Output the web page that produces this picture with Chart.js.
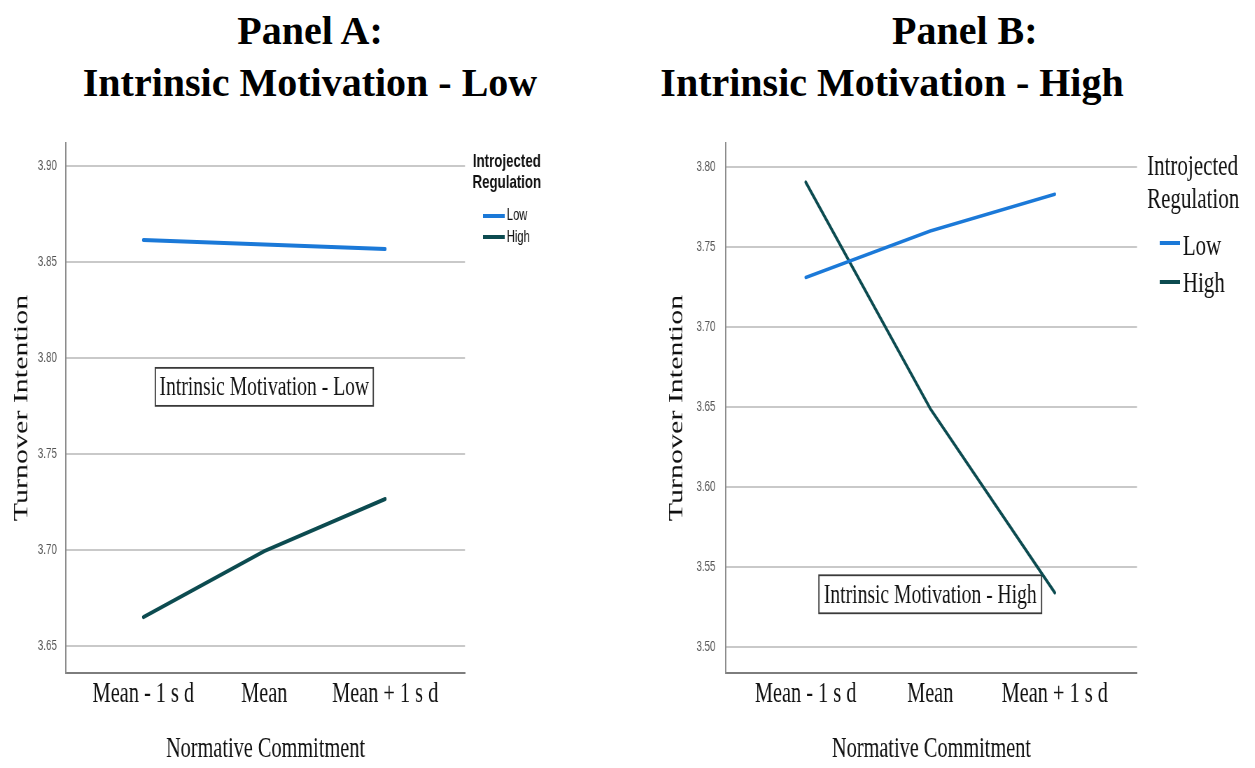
<!DOCTYPE html>
<html>
<head>
<meta charset="utf-8">
<title>Turnover Intention by Normative Commitment</title>
<script src="https://cdn.jsdelivr.net/npm/chart.js@4.4.1/dist/chart.umd.min.js"></script>
<style>
  html, body { margin: 0; padding: 0; background: #fff; overflow: hidden; width: 1255px; height: 768px; }
  .panel { position: absolute; top: 0; height: 768px; overflow: hidden; }
  .stretch { position: absolute; left: 0; top: 0; height: 768px; transform-origin: 0 0; }
  .title { position: absolute; font: bold 40px 'Liberation Serif', 'Times New Roman', serif;
           line-height: 52px; color: #000; white-space: nowrap; }
</style>
</head>
<body>
<div class="title" style="left:0;top:5px;width:620px;text-align:center">Panel A:<br>Intrinsic Motivation - Low</div>
<div class="title" style="left:892px;top:5px">Panel B:</div>
<div class="title" style="left:592px;top:57px;width:600px;text-align:center">Intrinsic Motivation - High</div>

<div class="panel" style="left:0;width:620px"><div class="stretch" id="wrapA"><canvas id="chartA"></canvas></div></div>
<div class="panel" style="left:620px;width:635px"><div class="stretch" id="wrapB"><canvas id="chartB"></canvas></div></div>

<script>
// ---- data ----
const categories = ['Mean - 1 s d', 'Mean', 'Mean + 1 s d'];
const seriesNames = ['Low', 'High'];
const panelALow  = [3.8615, 3.8591, 3.8568];
const panelAHigh = [3.6651, 3.6995, 3.7266];
const panelBLow  = [3.731, 3.760, 3.783];
const panelBHigh = [3.7905, 3.649, 3.534];
const panelATicks = [3.65, 3.70, 3.75, 3.80, 3.85, 3.90];
const panelBTicks = [3.50, 3.55, 3.60, 3.65, 3.70, 3.75, 3.80];
const legendTitle = ['Introjected', 'Regulation'];
const yTitle = 'Turnover Intention';
const xTitle = 'Normative Commitment';
const noteA = 'Intrinsic Motivation - Low';
const noteB = 'Intrinsic Motivation - High';

// ---- look ----
const SX = 0.7;                       // horizontal squeeze of the plot artwork
const COLOR_LOW = '#1b79d8';
const COLOR_HIGH = '#0c4b50';
const SERIF = "'Liberation Serif', 'Times New Roman', serif";
const SANS = "'Liberation Sans', Arial, sans-serif";

// legend + framed caption drawn on the chart canvas
const overlayPlugin = {
  id: 'panelOverlay',
  beforeDatasetsDraw(chart, args, opts) {
    const { ctx, scales: { x, y } } = chart;
    const n = opts.note;
    const cx = x.getPixelForValue(n.x);
    const cy = y.getPixelForValue(n.y);
    ctx.save();
    ctx.font = n.font;
    const w = ctx.measureText(n.text).width + n.padX * 2;
    const h = n.h;
    ctx.fillStyle = '#fff';
    ctx.fillRect(cx - w / 2, cy - h / 2, w, h);
    ctx.strokeStyle = '#3a3a3a';
    ctx.lineWidth = 1.8;
    ctx.strokeRect(cx - w / 2, cy - h / 2, w, h);
    ctx.fillStyle = '#111';
    ctx.textAlign = 'center';
    ctx.textBaseline = 'middle';
    ctx.fillText(n.text, cx, cy + 1);
    ctx.restore();
  },
  afterDraw(chart, args, opts) {
    const { ctx } = chart;
    const L = opts.legend;
    ctx.save();
    ctx.fillStyle = '#111';
    ctx.textBaseline = 'middle';
    ctx.font = L.titleFont;
    ctx.textAlign = L.titleAlign;
    legendTitle.forEach((t, i) => ctx.fillText(t, L.titleX, L.titleY[i]));
    ctx.font = L.itemFont;
    ctx.textAlign = 'left';
    chart.data.datasets.forEach((ds, i) => {
      ctx.strokeStyle = ds.borderColor;
      ctx.lineWidth = L.swatchWidth;
      ctx.beginPath();
      ctx.moveTo(L.swatchX[0], L.swatchY[i]);
      ctx.lineTo(L.swatchX[1], L.swatchY[i]);
      ctx.stroke();
      ctx.fillStyle = '#111';
      ctx.fillText(ds.label, L.textX, L.textY[i]);
    });
    ctx.restore();
  }
};

function makePanel(cfg) {
  const wrap = document.getElementById(cfg.wrap);
  wrap.style.width = cfg.canvasW + 'px';
  wrap.style.transform = 'scaleX(' + SX + ')';
  return new Chart(document.getElementById(cfg.canvas), {
    type: 'line',
    data: {
      datasets: [
        { label: seriesNames[0], data: cfg.low.map((v, i) => ({ x: i, y: v })),
          borderColor: COLOR_LOW, backgroundColor: COLOR_LOW, borderWidth: cfg.lineW,
          pointRadius: 0, tension: 0, borderCapStyle: 'round' },
        { label: seriesNames[1], data: cfg.high.map((v, i) => ({ x: i, y: v })),
          borderColor: COLOR_HIGH, backgroundColor: COLOR_HIGH, borderWidth: cfg.lineW,
          pointRadius: 0, tension: 0, borderCapStyle: 'round' }
      ]
    },
    options: {
      responsive: true,
      maintainAspectRatio: false,
      animation: false,
      layout: { padding: { left: cfg.padLeft, right: cfg.padRight, top: 143, bottom: 0 } },
      plugins: {
        legend: { display: false },
        tooltip: { enabled: false },
        panelOverlay: { note: cfg.note, legend: cfg.legend }
      },
      scales: {
        x: {
          type: 'linear',
          min: -0.64, max: 2.66,
          afterBuildTicks: (axis) => { axis.ticks = categories.map((_, i) => ({ value: i })); },
          afterFit: (axis) => { axis.height = 95; },
          grid: { display: false, drawTicks: false },
          border: { display: true, color: '#7d7d7d', width: 2 },
          ticks: {
            autoSkip: false, maxRotation: 0, padding: 4, color: '#111',
            font: { family: SERIF, size: 29 },
            callback: (v) => categories[v] ?? ''
          },
          title: { display: true, text: xTitle, color: '#111',
                   font: { family: SERIF, size: 29 }, padding: { top: 0, bottom: 1 } }
        },
        y: {
          min: cfg.yMin, max: cfg.yMax,
          afterBuildTicks: (axis) => { axis.ticks = cfg.ticks.map(v => ({ value: v })); },
          afterFit: (axis) => { axis.width = cfg.yWidth; },
          grid: { color: '#c9c9c9', lineWidth: 2, drawTicks: false },
          border: { display: true, color: '#8c8c8c', width: 2 },
          ticks: { padding: cfg.tickPad, color: '#555',
                   font: { family: SANS, size: 14 },
                   callback: (v) => Number(v).toFixed(2) },
          title: { display: true, text: yTitle, color: '#111',
                   font: { family: SERIF, size: 30 }, padding: { top: 13.4, bottom: 0 } }
        }
      }
    },
    plugins: [overlayPlugin]
  });
}

makePanel({
  wrap: 'wrapA', canvas: 'chartA', canvasW: 886,
  low: panelALow, high: panelAHigh, ticks: panelATicks,
  yMin: 3.636, yMax: 3.912, lineW: 4,
  padLeft: 0, yWidth: 94.3, padRight: 221.7, tickPad: 13,
  note: { text: noteA, x: 1, y: 3.785, font: '28px ' + SERIF, padX: 6, h: 38 },
  legend: {
    titleFont: 'bold 19px ' + SANS, titleAlign: 'center', titleX: 724, titleY: [162, 183],
    itemFont: '16px ' + SANS, swatchX: [690, 721], swatchY: [216, 237], swatchWidth: 4,
    textX: 724, textY: [216, 238]
  }
});

makePanel({
  wrap: 'wrapB', canvas: 'chartB', canvasW: 907,
  low: panelBLow, high: panelBHigh, ticks: panelBTicks,
  yMin: 3.4838, yMax: 3.815, lineW: 3.6,
  padLeft: 50, yWidth: 101.4, padRight: 168.4, tickPad: 15,
  note: { text: noteB, x: 1, y: 3.533, font: '28px ' + SERIF, padX: 7, h: 38 },
  legend: {
    titleFont: '30px ' + SERIF, titleAlign: 'left', titleX: 753, titleY: [167, 200],
    itemFont: '30px ' + SERIF, swatchX: [771, 800], swatchY: [243, 282], swatchWidth: 4,
    textX: 804, textY: [247, 284]
  }
});
</script>
</body>
</html>
